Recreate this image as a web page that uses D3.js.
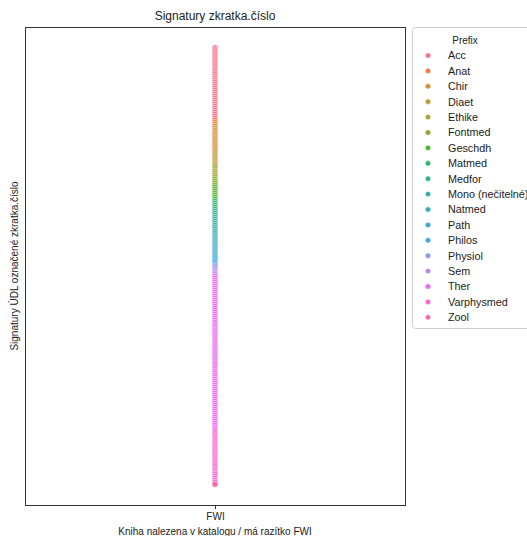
<!DOCTYPE html>
<html><head><meta charset="utf-8">
<script src="https://cdn.jsdelivr.net/npm/d3@7"></script>
<style>body{margin:0;background:#fff}svg{display:block}text{font-family:"Liberation Sans",Arial,sans-serif;fill:#222}</style>
</head><body>
<script>
const prefixes = ["Acc","Anat","Chir","Diaet","Ethike","Fontmed","Geschdh","Matmed","Medfor","Mono (nečitelné)","Natmed","Path","Philos","Physiol","Sem","Ther","Varphysmed","Zool"];
const counts   = [36, 2, 14, 7, 5, 5, 7, 5, 5, 5, 7, 6, 4, 2, 3, 77, 26, 1];
const xCategories = ["FWI"];
const title = "Signatury zkratka.číslo";
const xLabel = "Kniha nalezena v katalogu / má razítko FWI";
const yLabel = "Signatury ÚDL označené zkratka.číslo";

// HUSL (as used by seaborn) -> rgb
const M=[[3.2406,-1.5372,-0.4986],[-0.9689,1.8758,0.0415],[0.0557,-0.2040,1.0570]];
const refU=0.19784,refV=0.46834,labE=0.008856,labK=903.3;
function maxChroma(L,H){const hr=H/360*2*Math.PI,sH=Math.sin(hr),cH=Math.cos(hr);
 const s1=Math.pow(L+16,3)/1560896,s2=s1>labE?s1:L/labK;let res=Infinity;
 for(const [m1,m2,m3] of M){const top=(0.99915*m1+1.05122*m2+1.14460*m3)*s2;
  const rb=0.86330*m3-0.17266*m2,lb=0.12949*m3-0.38848*m1,bot=(rb*sH+lb*cH)*s2;
  for(const t of [0,1]){const C=L*(top-1.05122*t)/(bot+0.17266*sH*t);if(C>0&&C<res)res=C;}}
 return res;}
function husl(H,S,L){const C=maxChroma(L,H)/100*S,hr=H/360*2*Math.PI;
 const U=C*Math.cos(hr),V=C*Math.sin(hr);
 const t=(L+16)/116,Y=t*t*t>labE?t*t*t:(116*t-16)/labK;
 const vU=U/(13*L)+refU,vV=V/(13*L)+refV;
 const X=-(9*Y*vU)/((vU-4)*vV-vU*vV),Z=(9*Y-15*vV*Y-vV*X)/(3*vV);
 const rgb=M.map(r=>{let c=r[0]*X+r[1]*Y+r[2]*Z;c=c<=0.0031308?12.92*c:1.055*Math.pow(c,1/2.4)-0.055;return Math.round(Math.max(0,Math.min(1,c))*255);});
 return d3.rgb(...rgb).formatHex();}
const palette = prefixes.map((p,i)=>husl(((i/prefixes.length)+0.01)%1*359, 0.9*99, 0.65*99));
const color = d3.scaleOrdinal(prefixes, palette);

const rows=[];
prefixes.forEach((p,i)=>{for(let k=1;k<=counts[i];k++)rows.push({prefix:p,sig:p+"."+k,cat:"FWI"});});

const W=527,H=536;
const m={l:25,r:405,t:27,b:505};
const svg=d3.select("body").append("svg").attr("width",W).attr("height",H);

const x=d3.scalePoint().domain(xCategories).range([m.l,m.r]).padding(0.5);
const span=m.b-m.t;
const y=d3.scalePoint().domain(rows.map(d=>d.sig)).range([m.t+span*0.0435, m.b-span*0.0435]).padding(0);

svg.append("text").attr("x",(m.l+m.r)/2).attr("y",20).attr("text-anchor","middle").style("font-size","12px").text(title);

svg.append("g").selectAll("circle").data(rows).join("circle")
 .attr("cx",d=>x(d.cat)).attr("cy",d=>y(d.sig)).attr("r",3.1)
 .attr("fill",d=>color(d.prefix)).attr("stroke","#fff").attr("stroke-width",0.6);

svg.append("rect").attr("x",m.l+0.5).attr("y",m.t+0.5).attr("width",m.r-m.l).attr("height",m.b-m.t)
 .attr("fill","none").attr("stroke","#333").attr("stroke-width",1);

const xa=svg.append("g").attr("transform",`translate(0,${m.b+0.5})`).call(d3.axisBottom(x).tickSize(3.5).tickPadding(4));
xa.select(".domain").remove();
xa.selectAll("line").attr("stroke","#333");
xa.selectAll("text").style("font-size","10px").style("font-family","Liberation Sans, Arial, sans-serif").attr("fill","#222");

svg.append("text").attr("x",(m.l+m.r)/2).attr("y",535).attr("text-anchor","middle").style("font-size","10px").text(xLabel);
svg.append("text").attr("transform",`translate(18,${(m.t+m.b)/2}) rotate(-90)`).attr("text-anchor","middle").style("font-size","10px").text(yLabel);

// legend
const lg=svg.append("g");
lg.append("rect").attr("x",412.5).attr("y",27.5).attr("width",130).attr("height",301).attr("rx",3)
 .attr("fill","#fff").attr("stroke","#d0d0d0").attr("stroke-width",1);
lg.append("text").attr("x",465).attr("y",44).attr("text-anchor","middle").style("font-size","10px").text("Prefix");
const items=lg.selectAll("g.it").data(prefixes).join("g").attr("class","it")
 .attr("transform",(d,i)=>`translate(0,${55.5+i*15.4})`);
items.append("circle").attr("cx",428).attr("cy",0).attr("r",2.7).attr("fill",d=>color(d)).attr("stroke","#fff").attr("stroke-width",0.5);
items.append("text").attr("x",448).attr("y",3.9).style("font-size","10.8px").text(d=>d);
</script>
</body></html>
